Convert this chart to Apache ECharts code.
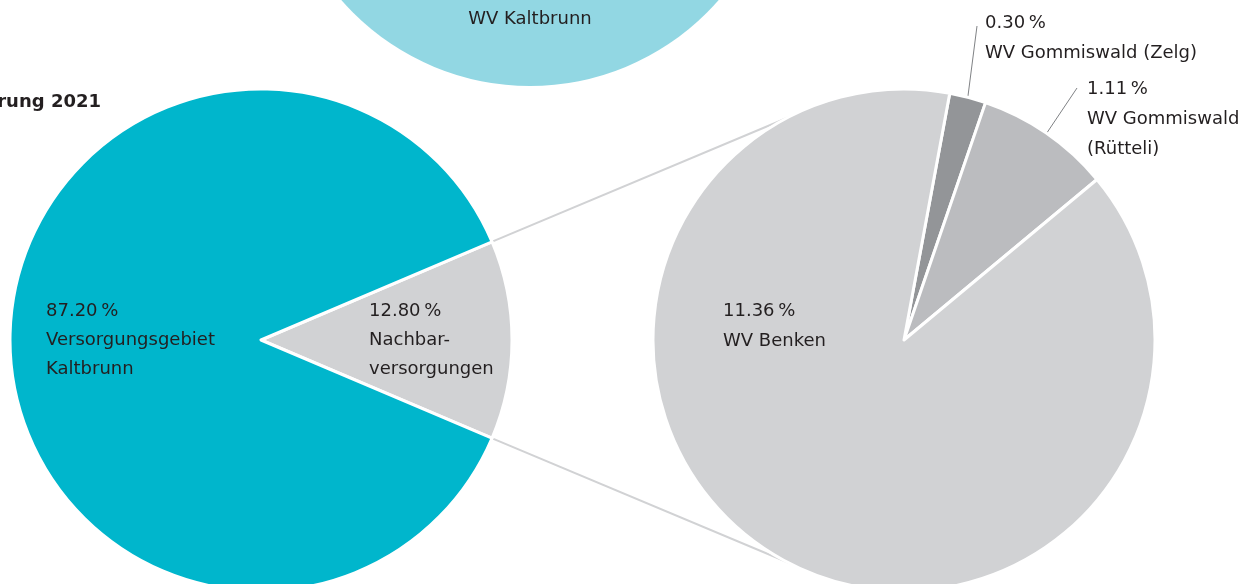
<!DOCTYPE html>
<html>
<head>
<meta charset="utf-8">
<script src="https://cdn.jsdelivr.net/npm/echarts@6/dist/echarts.min.js"></script>
<style>
  html, body { margin: 0; padding: 0; background: #fff; }
  #main { width: 1250px; height: 584px; }
</style>
</head>
<body>
<div id="main"></div>
<script>
// Werte
var topNames = ['WV Kaltbrunn'];
var topValues = [100];

var leftNames = ['Nachbar-\nversorgungen', 'Versorgungsgebiet\nKaltbrunn'];
var leftValues = [12.80, 87.20];

var rightNames = ['WV Gommiswald (Zelg)', 'WV Gommiswald\n(Rütteli)', 'WV Benken'];
var rightValues = [0.30, 1.11, 11.36];

var titleText = 'Wasserlieferung 2021';

// Geometrie
var R = 250;
var leftC = [261, 340];
var rightC = [904, 340];
var topC = [530, -164];

var textColor = '#231f20';
var font = 'DejaVu Sans';

function pct(v) { return v.toFixed(2) + '\u2009%'; }

// halbe Breite des grauen Segments = Startwinkel der linken Torte
var leftSum = leftValues.reduce(function (a, b) { return a + b; }, 0);
var half = 360 * leftValues[0] / leftSum / 2;

// Verbindungslinien: von den Kanten des grauen Segments tangential zum rechten Kreis
function tangent(p, c, r, sign) {
  var dx = p[0] - c[0], dy = p[1] - c[1];
  var d = Math.sqrt(dx * dx + dy * dy);
  var th = Math.atan2(dy, dx);
  var a = Math.acos(r / d);
  var t = th + sign * a;
  return [c[0] + r * Math.cos(t), c[1] + r * Math.sin(t)];
}
var rad = half * Math.PI / 180;
var pTop = [leftC[0] + R * Math.cos(rad), leftC[1] - R * Math.sin(rad)];
var pBot = [leftC[0] + R * Math.cos(rad), leftC[1] + R * Math.sin(rad)];
var tTop = tangent(pTop, rightC, R, 1);
var tBot = tangent(pBot, rightC, R, -1);

var leftLabelPos = [[369, 340], [46, 340]];
var rightLabelPos = [[985, 38], [1087, 119], [723, 326]];
var rightLineEnd = [[977, 26], [1077, 88], null];

var myChart = echarts.init(document.getElementById('main'));

myChart.setOption({
  animation: false,
  backgroundColor: '#fff',
  title: {
    text: titleText,
    right: 1149,
    top: 93,
    padding: 0,
    textStyle: { fontFamily: font, fontSize: 18, fontWeight: 'bold', color: textColor }
  },
  graphic: [
    { type: 'line', z: 0, shape: { x1: pTop[0], y1: pTop[1], x2: tTop[0], y2: tTop[1] },
      style: { stroke: '#d1d2d4', lineWidth: 2 } },
    { type: 'line', z: 0, shape: { x1: pBot[0], y1: pBot[1], x2: tBot[0], y2: tBot[1] },
      style: { stroke: '#d1d2d4', lineWidth: 2 } }
  ],
  series: [
    {
      type: 'pie',
      silent: true,
      center: topC,
      radius: R,
      itemStyle: { color: '#92d7e3', borderColor: '#fff', borderWidth: 0 },
      label: {
        show: true, position: 'inside', formatter: '{b}',
        fontFamily: font, fontSize: 18, color: textColor
      },
      labelLayout: function () {
        return { x: 530, y: 19, align: 'center', verticalAlign: 'middle' };
      },
      data: topNames.map(function (n, i) { return { name: n, value: topValues[i] }; })
    },
    {
      type: 'pie',
      silent: true,
      center: leftC,
      radius: R + 1,
      startAngle: half,
      itemStyle: { borderColor: '#fff', borderWidth: 3 },
      label: {
        show: true, position: 'inside',
        formatter: function (p) { return pct(p.value) + '\n' + p.name; },
        fontFamily: font, fontSize: 18, lineHeight: 29, color: textColor
      },
      labelLayout: function (p) {
        var xy = leftLabelPos[p.dataIndex];
        return { x: xy[0], y: xy[1], align: 'left', verticalAlign: 'middle' };
      },
      data: leftNames.map(function (n, i) {
        return { name: n, value: leftValues[i], itemStyle: { color: ['#d1d2d4', '#00b6cc'][i] } };
      })
    },
    {
      type: 'pie',
      silent: true,
      center: rightC,
      radius: R + 1,
      startAngle: 79.5,
      itemStyle: { borderColor: '#fff', borderWidth: 3 },
      label: {
        show: true,
        overflow: 'none',
        formatter: function (p) { return pct(p.value) + '\n' + p.name; },
        fontFamily: font, fontSize: 18, lineHeight: 30, color: textColor
      },
      labelLine: { lineStyle: { color: '#808285', width: 1 }, length: 10, length2: 0 },
      labelLayout: function (p) {
        var i = p.dataIndex;
        var xy = rightLabelPos[i];
        var out = { x: xy[0], y: xy[1], align: 'left', verticalAlign: 'middle' };
        if (rightLineEnd[i] && p.labelLinePoints) {
          out.labelLinePoints = [p.labelLinePoints[0], rightLineEnd[i]];
        }
        return out;
      },
      data: rightNames.map(function (n, i) {
        var outside = i < 2;
        return {
          name: n, value: rightValues[i],
          itemStyle: { color: ['#939598', '#bbbcbf', '#d1d2d4'][i] },
          label: { position: outside ? 'outside' : 'inside' },
          labelLine: { show: outside }
        };
      })
    }
  ]
});
</script>
</body>
</html>
